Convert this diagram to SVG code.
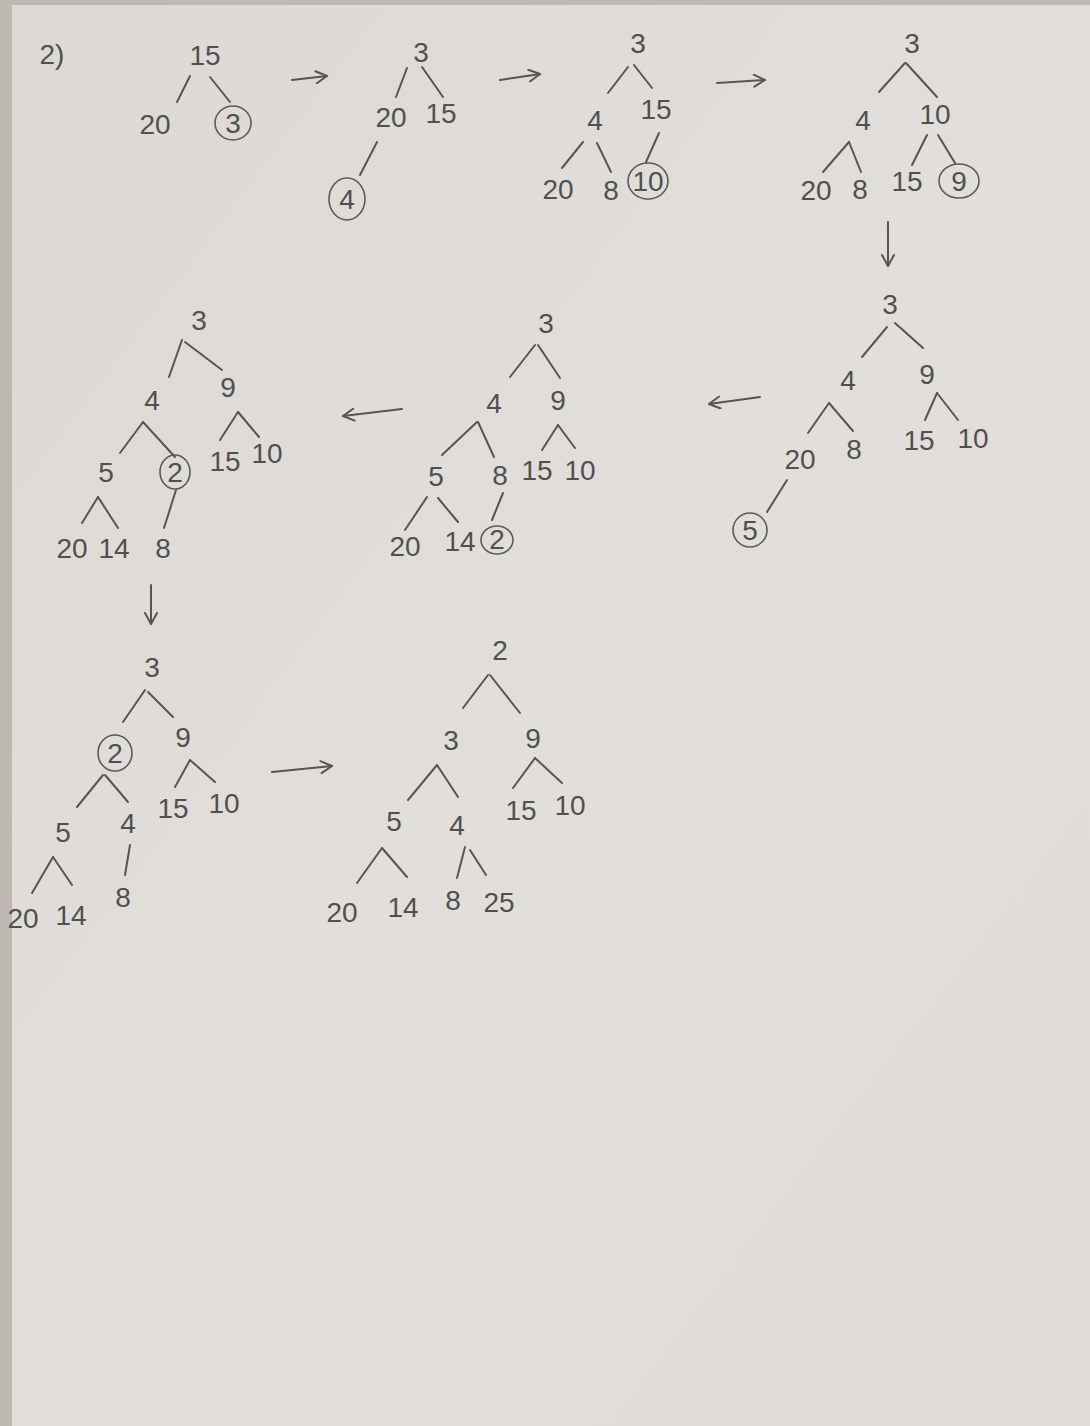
<svg xmlns="http://www.w3.org/2000/svg" width="1090" height="1426" viewBox="0 0 1090 1426">
<defs>
<linearGradient id="paper" x1="0" y1="0" x2="1" y2="1">
<stop offset="0" stop-color="#dcd9d4"/>
<stop offset="0.5" stop-color="#e2dfdb"/>
<stop offset="1" stop-color="#dfdcd8"/>
</linearGradient>
<marker id="ah" viewBox="0 0 14 14" refX="13" refY="7" markerWidth="14" markerHeight="14" markerUnits="userSpaceOnUse" orient="auto">
<path d="M2,1 L13,7 L2,13" fill="none" stroke="#555" stroke-width="2" stroke-linecap="round" stroke-linejoin="round"/>
</marker>
<style>
text{font-family:"Liberation Sans","DejaVu Sans",sans-serif;font-size:28px;fill:#505050;text-anchor:middle}
.e{stroke:#555;stroke-width:2;stroke-linecap:round;fill:none}
.c{stroke:#5a5a5a;stroke-width:1.6;fill:none}
.ar{stroke:#555;stroke-width:2;stroke-linecap:round;fill:none;marker-end:url(#ah)}
</style>
</defs>
<rect x="0" y="0" width="1090" height="1426" fill="#bdb8b1"/>
<rect x="12" y="5" width="1078" height="1421" fill="url(#paper)"/>
<text x="52" y="64">2)</text>
<g id="connectors">
<line class="e" x1="190" y1="76" x2="177" y2="102"/><line class="e" x1="210" y1="77" x2="230" y2="102"/>
<line class="e" x1="407" y1="68" x2="396" y2="97"/><line class="e" x1="422" y1="67" x2="443" y2="97"/><line class="e" x1="377" y1="142" x2="360" y2="175"/>
<line class="e" x1="628" y1="67" x2="608" y2="93"/><line class="e" x1="634" y1="65" x2="652" y2="88"/><line class="e" x1="583" y1="142" x2="562" y2="168"/><line class="e" x1="597" y1="143" x2="611" y2="172"/><line class="e" x1="659" y1="133" x2="646" y2="162"/>
<line class="e" x1="905" y1="63" x2="879" y2="92"/><line class="e" x1="906" y1="63" x2="937" y2="97"/><line class="e" x1="849" y1="142" x2="823" y2="172"/><line class="e" x1="849" y1="142" x2="861" y2="172"/><line class="e" x1="927" y1="135" x2="912" y2="165"/><line class="e" x1="938" y1="135" x2="955" y2="163"/>
<line class="e" x1="887" y1="327" x2="862" y2="357"/><line class="e" x1="895" y1="323" x2="923" y2="348"/><line class="e" x1="829" y1="403" x2="808" y2="433"/><line class="e" x1="829" y1="403" x2="853" y2="431"/><line class="e" x1="937" y1="393" x2="925" y2="420"/><line class="e" x1="937" y1="393" x2="958" y2="420"/><line class="e" x1="787" y1="480" x2="767" y2="512"/>
<line class="e" x1="535" y1="345" x2="510" y2="377"/><line class="e" x1="538" y1="345" x2="560" y2="378"/><line class="e" x1="477" y1="422" x2="442" y2="455"/><line class="e" x1="478" y1="422" x2="494" y2="457"/><line class="e" x1="558" y1="425" x2="542" y2="450"/><line class="e" x1="558" y1="425" x2="575" y2="448"/><line class="e" x1="427" y1="497" x2="405" y2="530"/><line class="e" x1="438" y1="498" x2="458" y2="522"/><line class="e" x1="503" y1="493" x2="492" y2="520"/>
<line class="e" x1="182" y1="340" x2="169" y2="377"/><line class="e" x1="185" y1="342" x2="222" y2="370"/><line class="e" x1="143" y1="422" x2="120" y2="453"/><line class="e" x1="143" y1="422" x2="175" y2="457"/><line class="e" x1="238" y1="412" x2="220" y2="440"/><line class="e" x1="238" y1="412" x2="259" y2="437"/><line class="e" x1="98" y1="497" x2="82" y2="523"/><line class="e" x1="98" y1="497" x2="118" y2="528"/><line class="e" x1="176" y1="490" x2="164" y2="528"/>
<line class="e" x1="145" y1="690" x2="123" y2="722"/><line class="e" x1="148" y1="692" x2="173" y2="717"/><line class="e" x1="103" y1="775" x2="77" y2="807"/><line class="e" x1="105" y1="775" x2="128" y2="802"/><line class="e" x1="190" y1="760" x2="175" y2="787"/><line class="e" x1="190" y1="760" x2="215" y2="782"/><line class="e" x1="53" y1="857" x2="32" y2="893"/><line class="e" x1="53" y1="857" x2="72" y2="885"/><line class="e" x1="130" y1="845" x2="125" y2="875"/>
<line class="e" x1="488" y1="675" x2="463" y2="708"/><line class="e" x1="490" y1="675" x2="520" y2="713"/><line class="e" x1="437" y1="765" x2="408" y2="800"/><line class="e" x1="437" y1="765" x2="458" y2="797"/><line class="e" x1="535" y1="758" x2="513" y2="788"/><line class="e" x1="535" y1="758" x2="562" y2="783"/><line class="e" x1="382" y1="848" x2="357" y2="883"/><line class="e" x1="382" y1="848" x2="407" y2="877"/><line class="e" x1="465" y1="847" x2="457" y2="878"/><line class="e" x1="470" y1="850" x2="486" y2="875"/>
<line class="ar" x1="292" y1="80" x2="327" y2="76"/>
<line class="ar" x1="500" y1="80" x2="540" y2="74"/>
<line class="ar" x1="717" y1="83" x2="765" y2="80"/>
<line class="ar" x1="888" y1="222" x2="888" y2="266"/>
<line class="ar" x1="760" y1="397" x2="709" y2="404"/>
<line class="ar" x1="402" y1="409" x2="343" y2="416"/>
<line class="ar" x1="151" y1="585" x2="151" y2="624"/>
<line class="ar" x1="272" y1="772" x2="332" y2="766"/>
</g>
<g id="t1">
<g id="t1-15"><text x="205" y="65">15</text></g>
<g id="t1-20"><text x="155" y="134">20</text></g>
<g id="t1-3"><ellipse class="c" cx="233" cy="123" rx="18" ry="17"/><text x="233" y="133">3</text></g>
</g>
<g id="t2">
<g id="t2-3"><text x="421" y="62">3</text></g>
<g id="t2-20"><text x="391" y="127">20</text></g>
<g id="t2-15"><text x="441" y="123">15</text></g>
<g id="t2-4"><ellipse class="c" cx="347" cy="199" rx="18" ry="21"/><text x="347" y="209">4</text></g>
</g>
<g id="t3">
<g id="t3-3"><text x="638" y="53">3</text></g>
<g id="t3-4"><text x="595" y="130">4</text></g>
<g id="t3-15"><text x="656" y="119">15</text></g>
<g id="t3-20"><text x="558" y="199">20</text></g>
<g id="t3-8"><text x="611" y="200">8</text></g>
<g id="t3-10"><ellipse class="c" cx="648" cy="181" rx="20" ry="18"/><text x="648" y="191">10</text></g>
</g>
<g id="t4">
<g id="t4-3"><text x="912" y="53">3</text></g>
<g id="t4-4"><text x="863" y="130">4</text></g>
<g id="t4-10"><text x="935" y="124">10</text></g>
<g id="t4-20"><text x="816" y="200">20</text></g>
<g id="t4-8"><text x="860" y="199">8</text></g>
<g id="t4-15"><text x="907" y="191">15</text></g>
<g id="t4-9"><ellipse class="c" cx="959" cy="181" rx="20" ry="17"/><text x="959" y="191">9</text></g>
</g>
<g id="t5">
<g id="t5-3"><text x="890" y="314">3</text></g>
<g id="t5-4"><text x="848" y="390">4</text></g>
<g id="t5-9"><text x="927" y="384">9</text></g>
<g id="t5-20"><text x="800" y="469">20</text></g>
<g id="t5-8"><text x="854" y="459">8</text></g>
<g id="t5-15"><text x="919" y="450">15</text></g>
<g id="t5-10"><text x="973" y="448">10</text></g>
<g id="t5-5"><ellipse class="c" cx="750" cy="530" rx="17" ry="17"/><text x="750" y="540">5</text></g>
</g>
<g id="t6">
<g id="t6-3"><text x="546" y="333">3</text></g>
<g id="t6-4"><text x="494" y="413">4</text></g>
<g id="t6-9"><text x="558" y="410">9</text></g>
<g id="t6-5"><text x="436" y="486">5</text></g>
<g id="t6-8"><text x="500" y="485">8</text></g>
<g id="t6-15"><text x="537" y="480">15</text></g>
<g id="t6-10"><text x="580" y="480">10</text></g>
<g id="t6-20"><text x="405" y="556">20</text></g>
<g id="t6-14"><text x="460" y="551">14</text></g>
<g id="t6-2"><ellipse class="c" cx="497" cy="540" rx="16" ry="14"/><text x="497" y="549">2</text></g>
</g>
<g id="t7">
<g id="t7-3"><text x="199" y="330">3</text></g>
<g id="t7-4"><text x="152" y="410">4</text></g>
<g id="t7-9"><text x="228" y="397">9</text></g>
<g id="t7-5"><text x="106" y="482">5</text></g>
<g id="t7-2"><ellipse class="c" cx="175" cy="472" rx="15" ry="17"/><text x="175" y="482">2</text></g>
<g id="t7-15"><text x="225" y="471">15</text></g>
<g id="t7-10"><text x="267" y="463">10</text></g>
<g id="t7-20"><text x="72" y="558">20</text></g>
<g id="t7-14"><text x="114" y="558">14</text></g>
<g id="t7-8"><text x="163" y="558">8</text></g>
</g>
<g id="t8">
<g id="t8-3"><text x="152" y="677">3</text></g>
<g id="t8-2"><ellipse class="c" cx="115" cy="753" rx="17" ry="18"/><text x="115" y="763">2</text></g>
<g id="t8-9"><text x="183" y="747">9</text></g>
<g id="t8-5"><text x="63" y="842">5</text></g>
<g id="t8-4"><text x="128" y="833">4</text></g>
<g id="t8-15"><text x="173" y="818">15</text></g>
<g id="t8-10"><text x="224" y="813">10</text></g>
<g id="t8-20"><text x="23" y="928">20</text></g>
<g id="t8-14"><text x="71" y="925">14</text></g>
<g id="t8-8"><text x="123" y="907">8</text></g>
</g>
<g id="t9">
<g id="t9-2"><text x="500" y="660">2</text></g>
<g id="t9-3"><text x="451" y="750">3</text></g>
<g id="t9-9"><text x="533" y="748">9</text></g>
<g id="t9-5"><text x="394" y="831">5</text></g>
<g id="t9-4"><text x="457" y="835">4</text></g>
<g id="t9-15"><text x="521" y="820">15</text></g>
<g id="t9-10"><text x="570" y="815">10</text></g>
<g id="t9-20"><text x="342" y="922">20</text></g>
<g id="t9-14"><text x="403" y="917">14</text></g>
<g id="t9-8"><text x="453" y="910">8</text></g>
<g id="t9-25"><text x="499" y="912">25</text></g>
</g>
</svg>
